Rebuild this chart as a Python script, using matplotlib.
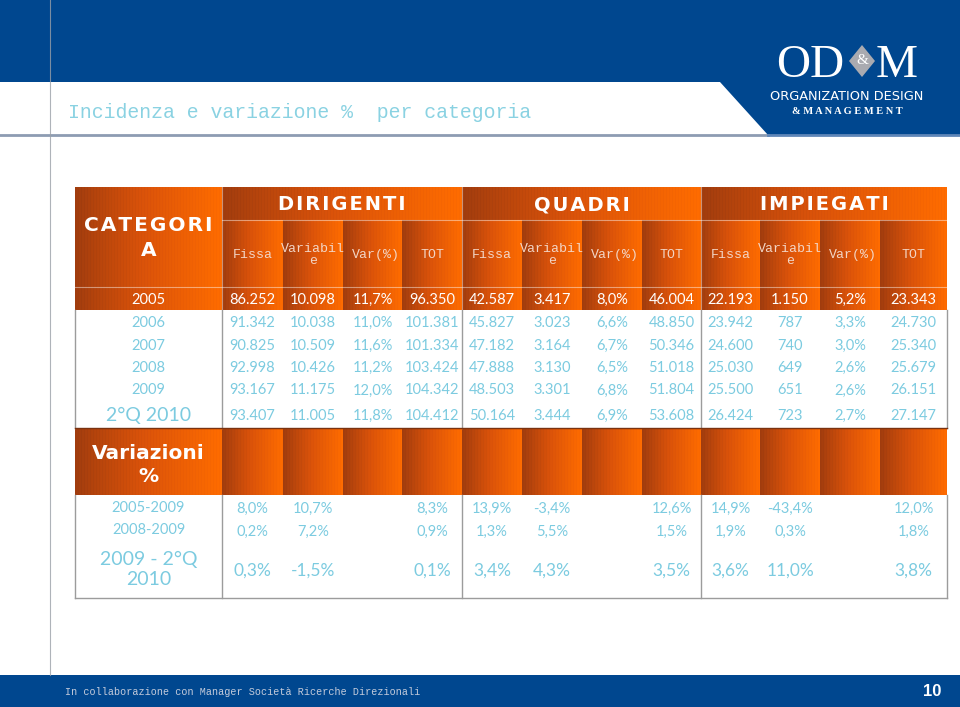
import numpy as np
import matplotlib
matplotlib.use('Agg')
import matplotlib.pyplot as plt
from matplotlib.colors import LinearSegmentedColormap
from matplotlib.patches import Polygon, Rectangle

# ---- data ----
groups = ['DIRIGENTI', 'QUADRI', 'IMPIEGATI']
sub_cols = ['Fissa', 'Variabil\ne', 'Var(%)', 'TOT']
years = ['2005', '2006', '2007', '2008', '2009', '2°Q 2010']

dir_fissa = [86252, 91342, 90825, 92998, 93167, 93407]
dir_var = [10098, 10038, 10509, 10426, 11175, 11005]
dir_pct = [11.7, 11.0, 11.6, 11.2, 12.0, 11.8]
dir_tot = [96350, 101381, 101334, 103424, 104342, 104412]

qua_fissa = [42587, 45827, 47182, 47888, 48503, 50164]
qua_var = [3417, 3023, 3164, 3130, 3301, 3444]
qua_pct = [8.0, 6.6, 6.7, 6.5, 6.8, 6.9]
qua_tot = [46004, 48850, 50346, 51018, 51804, 53608]

imp_fissa = [22193, 23942, 24600, 25030, 25500, 26424]
imp_var = [1150, 787, 740, 649, 651, 723]
imp_pct = [5.2, 3.3, 3.0, 2.6, 2.6, 2.7]
imp_tot = [23343, 24730, 25340, 25679, 26151, 27147]

periods = ['2005-2009', '2008-2009', '2009 - 2°Q\n2010']
dir_fissa_chg = [8.0, 0.2, 0.3]
dir_var_chg = [10.7, 7.2, -1.5]
dir_tot_chg = [8.3, 0.9, 0.1]
qua_fissa_chg = [13.9, 1.3, 3.4]
qua_var_chg = [-3.4, 5.5, 4.3]
qua_tot_chg = [12.6, 1.5, 3.5]
imp_fissa_chg = [14.9, 1.9, 3.6]
imp_var_chg = [-43.4, 0.3, 11.0]
imp_tot_chg = [12.0, 1.8, 3.8]

# ---- layout (pixels) ----
col_x = [75, 222, 283, 343, 402, 462, 522, 582, 642, 701, 760, 820, 880, 947]
hdr_y = [187, 220, 287]
year_y = [287, 310, 333, 355, 378, 400, 428]
var_hdr_y = [428, 495]
per_y = [495, 520, 541, 598]

BLUE = '#00478f'
TXT = '#7ccbe0'
HDR_TXT = '#f3d6c6'
GRID = '#9c9c9c'
orange = LinearSegmentedColormap.from_list('orange', ['#a03c0e', '#d9520a', '#ff6c00'])


def fmt_int(v):
    return f"{v:,}".replace(',', '.')


def fmt_pct(v):
    return f"{v:.1f}%".replace('.', ',')


def spaced(s, sp='\u200a'):
    return sp.join(s)


fig = plt.figure(figsize=(9.6, 7.07), dpi=100)
ax = fig.add_axes([0, 0, 1, 1])


def grad_cell(x0, x1, y0, y1):
    n = max(int(x1 - x0), 2)
    g = np.linspace(0, 1, n) ** 0.85
    g = np.clip(g - 0.05 * ((np.arange(n) % 3) == 0), 0, 1)
    ax.imshow(g[None, :], extent=(x0, x1, y1, y0), cmap=orange, vmin=0, vmax=1,
              aspect='auto', interpolation='nearest', zorder=1)


# slide background
ax.add_patch(Polygon([(0, 0), (960, 0), (960, 135), (768, 135), (720, 82), (0, 82)],
                     closed=True, facecolor=BLUE, edgecolor='none', zorder=0))
ax.add_patch(Rectangle((0, 675), 960, 32, facecolor=BLUE, edgecolor='none', zorder=0))
ax.plot([0, 768], [135, 135], color='#8d9cb2', lw=2, zorder=2)
ax.plot([768, 960], [135, 135], color='#5f86b8', lw=2, zorder=2)
ax.plot([50, 50], [0, 675], color='#9aa0a8', lw=0.8, alpha=0.8, zorder=2)

# title
ax.text(68, 113, 'Incidenza e variazione %  per categoria', family='Liberation Mono',
        fontsize=14.3, color='#8ad2e2', va='center', ha='left')

# logo
ax.text(776, 77, 'OD', family='Liberation Serif', fontsize=34, color='white',
        va='baseline', ha='left')
ax.add_patch(Polygon([(862, 45), (875, 61), (862, 77), (849, 61)], closed=True,
                     facecolor='#a9aab0', edgecolor='none', zorder=3))
ax.text(862, 61, '&', family='Liberation Serif', fontsize=11, color='white',
        va='center', ha='center', zorder=4)
ax.text(876, 77, 'M', family='Liberation Serif', fontsize=34, color='white',
        va='baseline', ha='left', zorder=5)
ax.text(847, 96, 'ORGANIZATION DESIGN', family=['Liberation Sans Narrow', 'DejaVu Sans'],
        fontsize=9.3, color='white', va='center', ha='center')
ax.text(847, 111, spaced('&MANAGEMENT', ' '), family='Liberation Serif', fontweight='bold',
        fontsize=7.5, color='white', va='center', ha='center')

# footer
ax.text(65, 692, 'In collaborazione con Manager Società Ricerche Direzionali',
        family='Liberation Mono', fontsize=7.3, color='#c4cbdb', va='center', ha='left')
ax.text(932, 692, '10', family='Liberation Sans', fontweight='bold', fontsize=12,
        color='white', va='center', ha='center')

# ---- table: orange header cells ----
grad_cell(col_x[0], col_x[1], hdr_y[0], hdr_y[2])
for g in range(3):
    grad_cell(col_x[1 + 4 * g], col_x[5 + 4 * g], hdr_y[0], hdr_y[1])
for i in range(1, 13):
    grad_cell(col_x[i], col_x[i + 1], hdr_y[1], hdr_y[2])
    grad_cell(col_x[i], col_x[i + 1], year_y[0], year_y[1])
    grad_cell(col_x[i], col_x[i + 1], var_hdr_y[0], var_hdr_y[1])
grad_cell(col_x[0], col_x[1], year_y[0], year_y[1])
grad_cell(col_x[0], col_x[1], var_hdr_y[0], var_hdr_y[1])

# light separators inside orange areas
ax.plot([col_x[1], col_x[-1]], [hdr_y[1]] * 2, color='white', alpha=0.45, lw=0.8, zorder=3)
ax.plot([col_x[0], col_x[-1]], [hdr_y[2]] * 2, color='white', alpha=0.45, lw=0.8, zorder=3)
for x in (col_x[1], col_x[5], col_x[9]):
    ax.plot([x, x], [hdr_y[0], year_y[1]], color='white', alpha=0.45, lw=0.8, zorder=3)

# gray grid in white areas
for (y0, y1) in ((year_y[1], year_y[-1]), (per_y[0], per_y[-1])):
    for x in (col_x[0], col_x[1], col_x[5], col_x[9], col_x[-1]):
        ax.plot([x, x], [y0, y1], color=GRID, lw=1, zorder=3)
ax.plot([col_x[0], col_x[-1]], [per_y[-1]] * 2, color=GRID, lw=1, zorder=3)
ax.plot([col_x[0], col_x[-1]], [year_y[-1]] * 2, color='#7a3210', lw=1, zorder=3)

# header text
ax.text((col_x[0] + col_x[1]) / 2, 238, spaced('CATEGORI') + '\n' + 'A',
        family='DejaVu Sans', fontweight='bold', fontsize=14.5, color='white',
        ha='center', va='center', linespacing=1.35, zorder=4)
for g, name in enumerate(groups):
    xc = (col_x[1 + 4 * g] + col_x[5 + 4 * g]) / 2
    ax.text(xc, 205, spaced(name), family='DejaVu Sans', fontweight='bold',
            fontsize=14, color='white', ha='center', va='center', zorder=4)
    for j, lab in enumerate(sub_cols):
        i = 1 + 4 * g + j
        xc = (col_x[i] + col_x[i + 1]) / 2
        if j == 2:
            xc += 3
        ax.text(xc, 255, lab, family='Liberation Mono', fontsize=9.5, color=HDR_TXT,
                ha='center', va='center', linespacing=1.1, zorder=4)

# year rows
year_cols = [dir_fissa, dir_var, dir_pct, dir_tot,
             qua_fissa, qua_var, qua_pct, qua_tot,
             imp_fissa, imp_var, imp_pct, imp_tot]
for r, yr in enumerate(years):
    yc = (year_y[r] + year_y[r + 1]) / 2
    color = 'white' if r == 0 else TXT
    big = r == len(years) - 1
    ax.text((col_x[0] + col_x[1]) / 2, yc, yr, family='Lato', fontsize=14 if big else 10.5,
            color=color, ha='center', va='center_baseline', zorder=4)
    for i, col in enumerate(year_cols):
        v = col[r]
        s = fmt_pct(v) if i % 4 == 2 else fmt_int(v)
        ax.text((col_x[i + 1] + col_x[i + 2]) / 2, yc, s, family='Lato', fontsize=10.5,
                color=color, ha='center', va='center_baseline', zorder=4)

# variazioni
ax.text((col_x[0] + col_x[1]) / 2, 465, 'Variazioni\n%', family='DejaVu Sans',
        fontweight='bold', fontsize=14.5, color='white', ha='center', va='center',
        linespacing=1.3, zorder=4)
chg_cols = [dir_fissa_chg, dir_var_chg, None, dir_tot_chg,
            qua_fissa_chg, qua_var_chg, None, qua_tot_chg,
            imp_fissa_chg, imp_var_chg, None, imp_tot_chg]
for r, per in enumerate(periods):
    yc = (per_y[r] + per_y[r + 1]) / 2
    big = r == len(periods) - 1
    ax.text((col_x[0] + col_x[1]) / 2, yc, per, family='Lato', fontsize=14 if big else 10.5,
            color=TXT, ha='center', va='center', linespacing=1.15, zorder=4)
    for i, col in enumerate(chg_cols):
        if col is None:
            continue
        ax.text((col_x[i + 1] + col_x[i + 2]) / 2, yc, fmt_pct(col[r]), family='Lato',
                fontsize=12.5 if big else 10.5, color=TXT, ha='center',
                va='center_baseline', zorder=4)

ax.set_xlim(0, 960)
ax.set_ylim(707, 0)
ax.axis('off')
fig.savefig('out.png', dpi=100)
